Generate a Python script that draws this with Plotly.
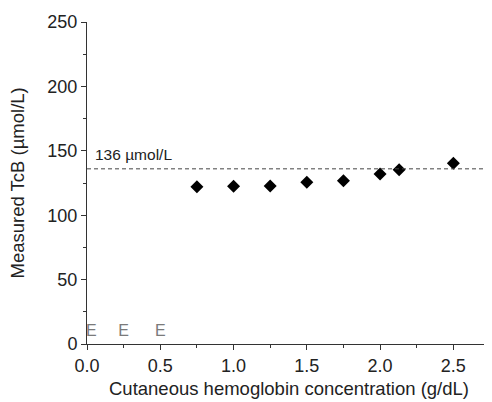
import plotly.graph_objects as go

hb = [0.75, 1.0, 1.25, 1.5, 1.75, 2.0, 2.13, 2.5]
tcb = [122, 122.5, 122.7, 125.5, 126.8, 132, 135.3, 140.3]
e_x = [0.03, 0.25, 0.5]
e_y = [9, 9, 9]
e_text = ["E", "E", "E"]
ref_value = 136
ref_label = "136 µmol/L"
x_title = "Cutaneous hemoglobin concentration (g/dL)"
y_title = "Measured TcB (µmol/L)"

FONT = "Liberation Sans, Arial, Helvetica"
INK = "#222"

fig = go.Figure()
fig.add_trace(go.Scatter(x=hb, y=tcb, mode="markers",
                         marker=dict(symbol="diamond", size=10, color="black"),
                         showlegend=False))
fig.add_trace(go.Scatter(x=e_x, y=e_y, mode="text", text=e_text,
                         textfont=dict(color="#7a7a7a", size=16, family=FONT),
                         showlegend=False))
fig.add_shape(type="line", xref="paper", x0=0, x1=1, yref="y", y0=ref_value, y1=ref_value,
              line=dict(color="#444", width=1, dash="4px,3px"))
fig.add_annotation(x=0.04, y=ref_value, xref="x", yref="y", text=ref_label, showarrow=False,
                   xanchor="left", yanchor="bottom", yshift=4,
                   font=dict(size=15.5, color=INK, family=FONT))
fig.add_annotation(x=0.5, y=0, xref="paper", yref="paper", text=x_title, showarrow=False,
                   xanchor="center", yanchor="top", yshift=-32,
                   font=dict(size=18.5, color=INK, family=FONT))
fig.add_annotation(x=0, y=0.5, xref="paper", yref="paper", text=y_title, showarrow=False,
                   textangle=-90, xanchor="right", yanchor="middle", xshift=-58,
                   font=dict(size=18.5, color=INK, family=FONT))

axis_common = dict(showline=True, linecolor="#333", linewidth=1, ticks="outside",
                   tickcolor="#333", ticklen=5, showgrid=False, zeroline=False,
                   automargin=False,
                   tickfont=dict(size=18, color=INK, family=FONT))
fig.update_xaxes(range=[0, 2.75], tickvals=[0, 0.5, 1.0, 1.5, 2.0, 2.5], tickformat=".1f",
                 minor=dict(dtick=0.25, ticks="outside", ticklen=3, tickcolor="#333"),
                 **axis_common)
fig.update_yaxes(range=[0, 250], dtick=50,
                 minor=dict(dtick=25, ticks="outside", ticklen=3, tickcolor="#333"),
                 **axis_common)
# page body adds an 8px offset; figure sized to fill the remaining window
fig.update_layout(width=484, height=394, margin=dict(l=79, r=2, t=14, b=58),
                  plot_bgcolor="white", paper_bgcolor="white")
fig.write_html("out.html")
